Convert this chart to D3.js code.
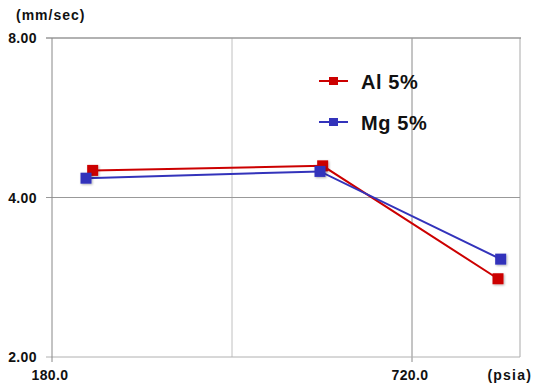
<!DOCTYPE html>
<html><head><meta charset="utf-8">
<script src="https://cdn.jsdelivr.net/npm/d3@7"></script>
<style>body{margin:0;background:#fff}svg{display:block}text{font-family:"Liberation Sans",Arial,sans-serif;font-weight:bold;fill:#111}</style>
</head><body>
<script>
const pressAl = [241, 586, 849];
const pressMg = [231, 582, 853];
const al5 = [4.50, 4.59, 2.81];
const mg5 = [4.35, 4.48, 3.06];
const seriesNames = ["Al 5%", "Mg 5%"];
const xTicks = [180, 720];
const xGrid = [450];
const yTicks = [2, 4, 8];

const W = 533, H = 384;
const svg = d3.select("body").append("svg").attr("width", W).attr("height", H);
const x = d3.scaleLinear().domain([180, 882]).range([52, 520]);
const y = d3.scaleLog().base(2).domain([2, 8]).range([357, 38]);

svg.selectAll(".gx").data(xGrid).enter().append("line")
  .attr("x1", d => x(d)).attr("x2", d => x(d)).attr("y1", y(8)).attr("y2", y(2))
  .attr("stroke", "#c0c0c0").attr("stroke-width", 1);
svg.append("line").attr("x1", x(882)).attr("x2", x(882)).attr("y1", y(8)).attr("y2", y(2))
  .attr("stroke", "#d4d4d4").attr("stroke-width", 2);
svg.append("line").attr("x1", x(720)).attr("x2", x(720)).attr("y1", y(8)).attr("y2", y(2) + 5)
  .attr("stroke", "#8a8a8a").attr("stroke-width", 1);
svg.selectAll(".gy").data(yTicks).enter().append("line")
  .attr("x1", 46).attr("x2", d => d === 8 ? x(882) + 1 : x(882))
  .attr("y1", d => y(d)).attr("y2", d => y(d))
  .attr("stroke", d => d === 2 ? "#b0b0b0" : "#999").attr("stroke-width", d => d === 8 ? 1.5 : 1);
svg.append("line").attr("x1", x(180)).attr("x2", x(180)).attr("y1", y(8)).attr("y2", y(2) + 5)
  .attr("stroke", "#888").attr("stroke-width", 1);

svg.selectAll(".yl").data(yTicks).enter().append("text")
  .attr("x", 37).attr("y", d => y(d) + 5).attr("text-anchor", "end")
  .style("font-size", "14px").style("letter-spacing", "0.4px").text(d => d.toFixed(2));
svg.append("text").attr("x", 16).attr("y", 20).style("font-size", "14px")
  .style("letter-spacing", "1px").text("(mm/sec)");
svg.selectAll(".xl").data(xTicks).enter().append("text")
  .attr("x", d => x(d) - 2).attr("y", 380).attr("text-anchor", "middle")
  .style("font-size", "14px").style("letter-spacing", "0.4px").text(d => d.toFixed(1));
svg.append("text").attr("x", 532).attr("y", 380).attr("text-anchor", "end")
  .style("font-size", "14px").style("letter-spacing", "1.2px").text("(psia)");

const defs = svg.append("defs");
defs.append("filter").attr("id", "sh").attr("x", "-50%").attr("y", "-50%").attr("width", "200%").attr("height", "200%")
  .append("feDropShadow").attr("dx", 1).attr("dy", 1).attr("stdDeviation", 1).attr("flood-color", "#000").attr("flood-opacity", 0.3);

const series = [
  {name: seriesNames[0], xs: pressAl, ys: al5, color: "#cc0000"},
  {name: seriesNames[1], xs: pressMg, ys: mg5, color: "#3333bb"}
];
const line = d3.line().x(d => x(d[0])).y(d => y(d[1]));
series.forEach(s => {
  const pts = s.xs.map((v, i) => [v, s.ys[i]]);
  svg.append("path").datum(pts).attr("d", line).attr("fill", "none")
    .attr("stroke", s.color).attr("stroke-width", 2);
});
series.forEach(s => {
  const pts = s.xs.map((v, i) => [v, s.ys[i]]);
  svg.selectAll(null).data(pts).enter().append("rect")
    .attr("x", d => x(d[0]) - 5.5).attr("y", d => y(d[1]) - 5.5)
    .attr("width", 11).attr("height", 11).attr("fill", s.color).attr("filter", "url(#sh)");
});

const leg = svg.append("g");
series.forEach((s, i) => {
  const ly = 81 + i * 41;
  leg.append("line").attr("x1", 319).attr("x2", 348).attr("y1", ly).attr("y2", ly)
    .attr("stroke", s.color).attr("stroke-width", 2);
  leg.append("rect").attr("x", 329).attr("y", ly - 4).attr("width", 9).attr("height", 8).attr("fill", s.color);
  leg.append("text").attr("x", 361).attr("y", ly + 8).style("font-size", "20px")
    .style("letter-spacing", "0.6px").text(s.name);
});
</script>
</body></html>
